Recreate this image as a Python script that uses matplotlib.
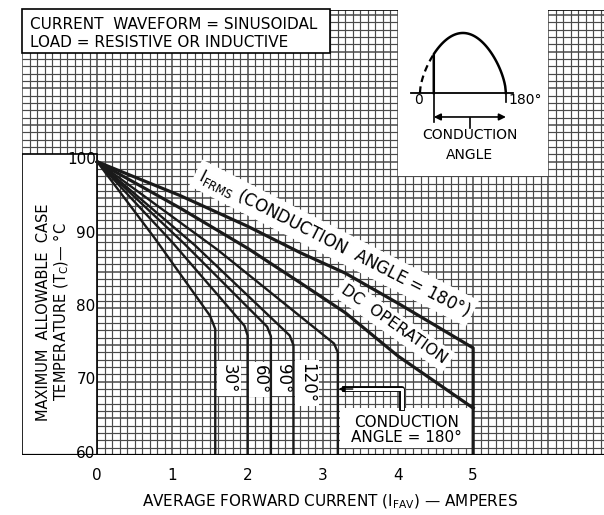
import matplotlib.pyplot as plt
import matplotlib.patheffects as pe
import numpy as np
from matplotlib.patches import Rectangle

plt.rcParams["font.family"] = "DejaVu Sans"

# Derating curves: average forward current (A) vs. max allowable case temperature (°C)
amps_30 = [0, 0.77, 1.50, 1.57, 1.57]
temp_30 = [100, 89.5, 79.0, 77.2, 60]
amps_60 = [0, 1.00, 1.96, 2.00, 2.00]
temp_60 = [100, 89.0, 77.6, 76.3, 60]
amps_90 = [0, 1.15, 2.26, 2.31, 2.31]
temp_90 = [100, 88.9, 77.5, 76.2, 60]
amps_120 = [0, 1.30, 2.56, 2.61, 2.61]
temp_120 = [100, 88.6, 76.3, 75.0, 60]
amps_180 = [0, 1.60, 3.15, 3.20, 3.20]
temp_180 = [100, 88.0, 75.2, 74.0, 60]
amps_dc = [0, 1.1, 2.0, 2.7, 3.3, 4.0, 5.0]
temp_dc = [100, 93.7, 88.2, 83.5, 79.4, 73.5, 66.4]
amps_rms = [0, 1.1, 2.0, 2.7, 3.3, 4.0, 5.0, 5.0]
temp_rms = [100, 95.4, 91.2, 87.6, 84.8, 80.7, 74.6, 60]

x_ticks = [0, 1, 2, 3, 4, 5]
y_ticks = [60, 70, 80, 90, 100]
angle_labels = ["30°", "60°", "90°", "120°"]

X_MIN, X_MAX = -1.0, 6.74
Y_MIN, Y_MAX = 60, 120.7

fig = plt.figure(figsize=(6.04, 5.15), dpi=100)
ax = fig.add_axes([22 / 604, 60 / 515, 582 / 604, 445 / 515])
ax.set_xlim(X_MIN, X_MAX)
ax.set_ylim(Y_MIN, Y_MAX)
for s in ax.spines.values():
    s.set_visible(False)
ax.set_yticks([])
ax.set_xticks(x_ticks)
ax.set_xticklabels([str(v) for v in x_ticks], fontsize=11)
ax.tick_params(axis="x", length=0, pad=9)

# graph-paper grid: 0.1 A by 1 °C, slightly heavier every 1 A / 5 °C
grid_col = "#4a4a4a"
for xv in np.arange(-10, 68) / 10:
    heavy = abs(xv - round(xv)) < 1e-6
    ax.vlines(xv, Y_MIN, Y_MAX, color=grid_col, lw=1.1 if heavy else 0.85, zorder=1)
for yv in range(60, 121):
    ax.hlines(yv, X_MIN, X_MAX, color=grid_col, lw=1.1 if yv % 5 == 0 else 0.85, zorder=1)
ax.hlines(Y_MAX - 0.05, X_MIN, X_MAX, color="black", lw=1.2, zorder=1)
ax.hlines(60, X_MIN, X_MAX, color="black", lw=1.6, zorder=6)

# white panels over the grid
ax.add_patch(Rectangle((-1.0, 60), 1.0, 41.1, facecolor="white",
                       edgecolor="black", lw=1.2, zorder=3))
ax.add_patch(Rectangle((-1.0, 114.9), 4.1, 6.0, facecolor="white",
                       edgecolor="black", lw=1.2, zorder=3, clip_on=False))
ax.add_patch(Rectangle((4.0, 98.1), 2.0, 23, facecolor="white",
                       edgecolor="none", zorder=3))
ax.add_patch(Rectangle((3.23, 61.0), 1.77, 5.4, facecolor="white",
                       edgecolor="none", zorder=3))

ax.text(-0.89, 118.7, "CURRENT  WAVEFORM = SINUSOIDAL", fontsize=11,
        ha="left", va="center", zorder=4)
ax.text(-0.89, 116.2, "LOAD = RESISTIVE OR INDUCTIVE", fontsize=11,
        ha="left", va="center", zorder=4)

for yv in y_ticks:
    ax.text(-0.02, yv + 0.25, str(yv), fontsize=11, ha="right", va="center", zorder=4)

ax.text(-0.58, 79.5,
        "MAXIMUM  ALLOWABLE  CASE\nTEMPERATURE (T$_\\mathregular{C}$)— °C",
        fontsize=10.5, rotation=90, ha="center", va="center",
        linespacing=1.0, zorder=4)

# derating curves
thin = dict(color="#1a1a1a", lw=1.7, zorder=5, solid_joinstyle="round")
thick = dict(color="#1a1a1a", lw=2.3, zorder=5, solid_joinstyle="round")
ax.plot(amps_30, temp_30, **thin)
ax.plot(amps_60, temp_60, **thin)
ax.plot(amps_90, temp_90, **thin)
ax.plot(amps_120, temp_120, **thin)
ax.plot(amps_180, temp_180, **thin)
ax.plot(amps_dc, temp_dc, **thick)
ax.plot(amps_rms, temp_rms, **thick)

white_box = dict(facecolor="white", edgecolor="none", pad=2)
for lab, xv, yv in zip(angle_labels, [1.75, 2.17, 2.47, 2.79], [70.4, 70.3, 70.4, 69.8]):
    ax.text(xv, yv, lab, fontsize=12, rotation=-90, ha="center", va="center",
            bbox=white_box, zorder=4)

ax.text(3.15, 88.9, "I$_\\mathregular{FRMS}$ (CONDUCTION  ANGLE = 180°)",
        fontsize=12, rotation=-27, rotation_mode="anchor", ha="center",
        va="center", bbox=dict(facecolor="white", edgecolor="none", pad=3),
        zorder=4)
ax.text(3.95, 77.8, "DC  OPERATION", fontsize=11.5, rotation=-35,
        rotation_mode="anchor", ha="center", va="center",
        bbox=dict(facecolor="white", edgecolor="none", pad=3), zorder=4)

ax.text(4.11, 64.5, "CONDUCTION", fontsize=11, ha="center", va="center", zorder=4)
ax.text(4.11, 62.4, "ANGLE = 180°", fontsize=11, ha="center", va="center", zorder=4)

# leader from the 180° box to its curve
ax.plot([4.05, 4.05, 3.30], [66.4, 69.0, 69.0], color="white", lw=2.2, zorder=4,
        path_effects=[pe.Stroke(linewidth=4.2, foreground="black"), pe.Normal()])
ax.annotate("", xy=(3.21, 69.0), xytext=(3.40, 69.0),
            arrowprops=dict(arrowstyle="-|>", color="black", lw=1.0,
                            mutation_scale=9, shrinkA=0, shrinkB=0), zorder=5)

ax.set_xlabel("AVERAGE FORWARD CURRENT (I$_\\mathregular{FAV}$) — AMPERES",
              fontsize=11)
ax.xaxis.set_label_coords((330 - 22) / 582, -38 / 445)

# inset sketch of the conduction waveform
ins = fig.add_axes([397 / 604, (515 - 175) / 515, 150 / 604, 165 / 515])
ins.set_xlim(-48, 266)
ins.set_ylim(-1.367, 1.383)
ins.set_axis_off()
th_d = np.linspace(0, 29, 30)
ins.plot(th_d, np.sin(np.radians(th_d)) ** 0.6, color="black", lw=1.6,
         dashes=(3, 2))
th = np.linspace(29, 180, 100)
ins.plot(np.r_[29, th], np.r_[0, np.sin(np.radians(th)) ** 0.6], color="black",
         lw=1.8)
ins.plot([-19, 195], [0, 0], color="black", lw=1.3)
ins.plot([29, 29], [0, -0.48], color="black", lw=1.2)
ins.plot([180, 180], [0, -0.15], color="black", lw=1.2)
ins.annotate("", xy=(29, -0.40), xytext=(180, -0.40),
             arrowprops=dict(arrowstyle="<|-|>", color="black", lw=1.2,
                             mutation_scale=10, shrinkA=0, shrinkB=0))
ins.plot([104.6, 104.6], [-0.42, -0.58], color="black", lw=1.2)
ins.text(-4, -0.117, "0", fontsize=10, ha="center", va="center")
ins.text(186, -0.117, "180°", fontsize=10, ha="left", va="center")
ins.text(104.6, -0.70, "CONDUCTION", fontsize=10, ha="center", va="center")
ins.text(104.6, -1.03, "ANGLE", fontsize=10, ha="center", va="center")

fig.savefig("out.png", dpi=100)
